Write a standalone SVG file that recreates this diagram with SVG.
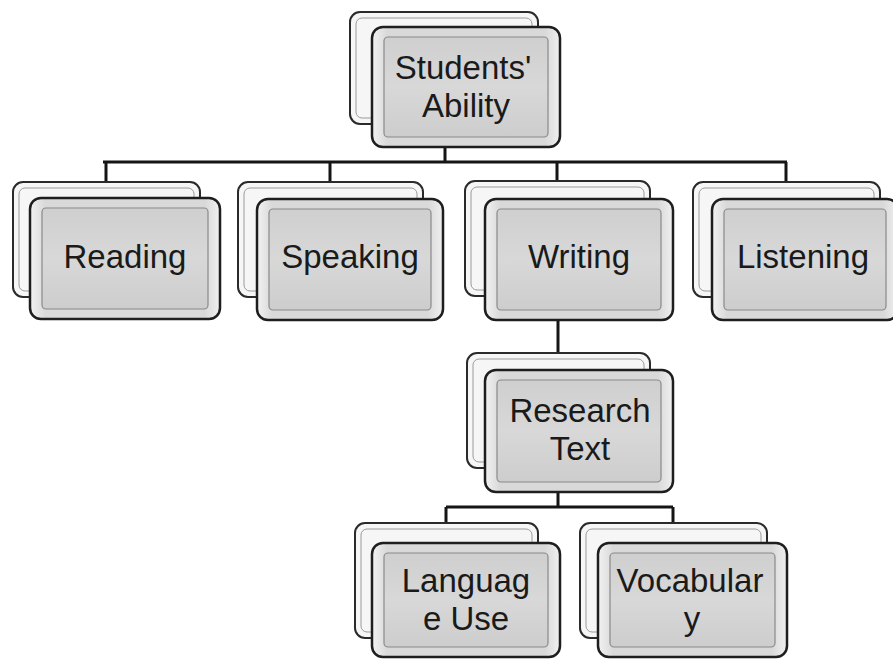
<svg xmlns="http://www.w3.org/2000/svg" width="893" height="659" viewBox="0 0 893 659">
  <defs>
    <linearGradient id="faceGrad" x1="0" y1="0" x2="0" y2="1">
      <stop offset="0" stop-color="#cfcfcf"/>
      <stop offset="0.5" stop-color="#d8d8d8"/>
      <stop offset="1" stop-color="#cdcdcd"/>
    </linearGradient>
    <linearGradient id="edgeGrad" x1="0" y1="0" x2="1" y2="0">
      <stop offset="0" stop-color="#f2f2f2"/>
      <stop offset="0.08" stop-color="#d9d9d9"/>
      <stop offset="0.92" stop-color="#d9d9d9"/>
      <stop offset="1" stop-color="#f0f0f0"/>
    </linearGradient>
  </defs>
  <style>
    .back { fill: #f6f6f6; stroke: #2a2a2a; stroke-width: 2; }
    .backInner { fill: none; stroke: #9a9a9a; stroke-width: 1; }
    .front { fill: url(#edgeGrad); stroke: #1e1e1e; stroke-width: 2.5; }
    .face { fill: url(#faceGrad); stroke: #8a8a8a; stroke-width: 1.2; }
    .label { font-family: "Liberation Sans", Arial, sans-serif; font-size: 33px; fill: #1a1a1a; text-anchor: middle; }
    .conn { fill: none; stroke: #151515; stroke-width: 3; }
  </style>

  <rect width="893" height="659" fill="#ffffff"/>

  <!-- connectors -->
  <g id="connectors">
    <path class="conn" d="M445 147 V162 M103 162 H787 M106 162 V182 M330 162 V182 M557 162 V181 M786 162 V182"/>
    <path class="conn" d="M558 320 V353"/>
    <path class="conn" d="M558 492 V507 M446 507 H673 M446 507 V523 M673 507 V523"/>
  </g>

  <!-- top node -->
  <g id="node-ability">
    <rect class="back" x="350" y="12" width="188" height="112" rx="10"/>
    <rect class="backInner" x="356" y="18" width="176" height="100" rx="6"/>
    <rect class="front" x="372" y="27" width="188" height="120" rx="11"/>
    <rect class="face" x="384" y="37" width="164" height="100" rx="4"/>
    <text class="label" x="463" y="79">Students'</text>
    <text class="label" x="466" y="117">Ability</text>
  </g>

  <g id="node-reading">
    <rect class="back" x="13" y="182" width="187" height="115" rx="10"/>
    <rect class="backInner" x="19" y="188" width="175" height="103" rx="6"/>
    <rect class="front" x="30" y="198" width="190" height="121" rx="11"/>
    <rect class="face" x="42" y="208" width="166" height="101" rx="4"/>
    <text class="label" x="125" y="268">Reading</text>
  </g>

  <g id="node-speaking">
    <rect class="back" x="238" y="182" width="185" height="115" rx="10"/>
    <rect class="backInner" x="244" y="188" width="173" height="103" rx="6"/>
    <rect class="front" x="257" y="199" width="186" height="121" rx="11"/>
    <rect class="face" x="269" y="209" width="162" height="101" rx="4"/>
    <text class="label" x="350" y="268">Speaking</text>
  </g>

  <g id="node-writing">
    <rect class="back" x="465" y="181" width="185" height="115" rx="10"/>
    <rect class="backInner" x="471" y="187" width="173" height="103" rx="6"/>
    <rect class="front" x="485" y="199" width="188" height="121" rx="11"/>
    <rect class="face" x="497" y="209" width="164" height="101" rx="4"/>
    <text class="label" x="579" y="268">Writing</text>
  </g>

  <g id="node-listening">
    <rect class="back" x="693" y="182" width="187" height="115" rx="10"/>
    <rect class="backInner" x="699" y="188" width="175" height="103" rx="6"/>
    <rect class="front" x="712" y="199" width="186" height="121" rx="11"/>
    <rect class="face" x="724" y="209" width="162" height="101" rx="4"/>
    <text class="label" x="803" y="268">Listening</text>
  </g>

  <g id="node-research">
    <rect class="back" x="467" y="353" width="183" height="115" rx="10"/>
    <rect class="backInner" x="473" y="359" width="171" height="103" rx="6"/>
    <rect class="front" x="485" y="370" width="188" height="122" rx="11"/>
    <rect class="face" x="497" y="380" width="164" height="102" rx="4"/>
    <text class="label" x="580" y="422">Research</text>
    <text class="label" x="580" y="460">Text</text>
  </g>

  <g id="node-language">
    <rect class="back" x="355" y="523" width="183" height="115" rx="10"/>
    <rect class="backInner" x="361" y="529" width="171" height="103" rx="6"/>
    <rect class="front" x="372" y="543" width="188" height="114" rx="11"/>
    <rect class="face" x="384" y="553" width="164" height="94" rx="4"/>
    <text class="label" x="466" y="592">Languag</text>
    <text class="label" x="466" y="630">e Use</text>
  </g>

  <g id="node-vocabulary">
    <rect class="back" x="580" y="523" width="187" height="115" rx="10"/>
    <rect class="backInner" x="586" y="529" width="175" height="103" rx="6"/>
    <rect class="front" x="598" y="543" width="189" height="114" rx="11"/>
    <rect class="face" x="610" y="553" width="165" height="94" rx="4"/>
    <text class="label" x="690" y="592">Vocabular</text>
    <text class="label" x="692" y="630">y</text>
  </g>
</svg>
